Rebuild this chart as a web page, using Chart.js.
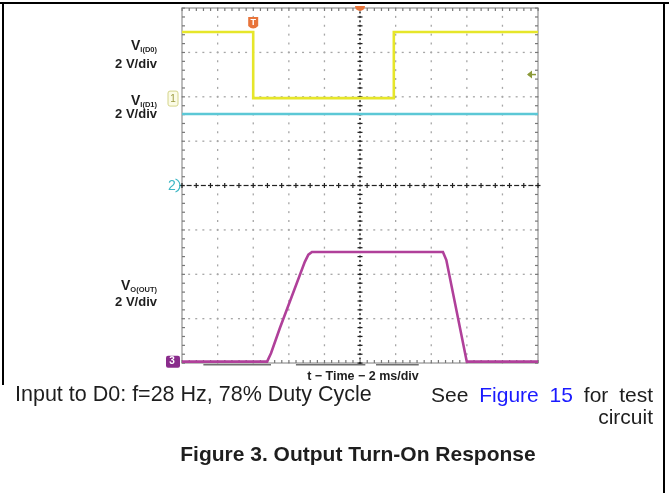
<!DOCTYPE html>
<html><head><meta charset="utf-8">
<script src="https://cdn.jsdelivr.net/npm/chart.js@4/dist/chart.umd.min.js"></script>
<style>
html,body{margin:0;padding:0;background:#fff;}
#wrap{position:relative;width:669px;height:493px;overflow:hidden;font-family:"Liberation Sans",Arial,sans-serif;}
canvas{position:absolute;left:0;top:0;}
.t{position:absolute;white-space:nowrap;color:#1e1e1e;line-height:1;}
.lab{font-weight:bold;text-align:right;right:512px;}
.v{font-size:14px;}
.v sub{font-size:7.5px;vertical-align:baseline;position:relative;top:2px;}
.d{font-size:13px;}
.bline{position:absolute;background:#000;}
</style></head><body>
<div id="wrap">
<canvas id="c" width="669" height="493"></canvas>
<div class="bline" style="left:0;top:2px;width:669px;height:2px"></div>
<div class="bline" style="left:2px;top:2px;width:2px;height:383px"></div>
<div class="bline" style="left:663px;top:2px;width:2px;height:491px"></div>

<div class="t lab v" style="top:38px">V<sub>I(D0)</sub></div>
<div class="t lab d" style="top:57px">2 V/div</div>
<div class="t lab v" style="top:93px">V<sub>I(D1)</sub></div>
<div class="t lab d" style="top:107px">2 V/div</div>
<div class="t lab v" style="top:278px">V<sub>O(OUT)</sub></div>
<div class="t lab d" style="top:295px">2 V/div</div>

<div class="t" style="left:0;width:726px;text-align:center;top:370px;font-size:12.5px;font-weight:bold;">t − Time − 2 ms/div</div>
<div class="t" style="left:15px;top:384px;font-size:21.5px;">Input to D0: f=28 Hz, 78% Duty Cycle</div>
<div class="t" style="right:16px;top:384px;font-size:21px;text-align:right;line-height:22px;"><span style="word-spacing:5px">See <span style="color:#1a1aff">Figure 15</span> for test</span><br>circuit</div>
<div class="t" style="left:0;width:716px;text-align:center;top:443px;font-size:21px;font-weight:bold;">Figure 3. Output Turn-On Response</div>
</div>
<script>
// time in ms (2 ms/div, 0 at screen centre); values in screen divisions (2 V/div)
const timeD0 = [-10, -6.0, -6.0, 1.9, 1.9, 10];
const voltD0 = [3.46, 3.46, 1.97, 1.97, 3.46, 3.46];
const timeD1 = [-10, 10];
const voltD1 = [1.61, 1.61];
const timeOut = [-10, -5.22, -5.0, -4.5, -3.1, -2.9, -2.7, 4.66, 4.85, 6.0, 10];
const voltOut = [-3.97, -3.97, -3.78, -3.21, -1.72, -1.56, -1.5, -1.5, -1.68, -3.97, -3.97];
const triggerTime = -6.0;

const pts = (t, v) => t.map((x, i) => ({x, y: v[i]}));

const scopeGrid = {
  id: 'scopeGrid',
  beforeDatasetsDraw(chart) {
    const {ctx, chartArea: a, scales: {x, y}} = chart;
    ctx.save();
    // frame
    ctx.strokeStyle = '#a8a8a8'; ctx.lineWidth = 1.5;
    ctx.strokeRect(a.left, a.top, a.right - a.left, a.bottom - a.top);
    // grid dots
    ctx.fillStyle = '#a6a6a6';
    for (let t = -8; t <= 8; t += 2) {
      if (t === 0) continue;
      const px = x.getPixelForValue(t);
      for (let v = -4; v <= 4.001; v += 0.2) {
        ctx.fillRect(px - 0.6, y.getPixelForValue(v) - 1, 1.3, 2);
      }
    }
    for (let v = -3; v <= 3; v++) {
      if (v === 0) continue;
      const py = y.getPixelForValue(v);
      for (let t = -10; t <= 10.001; t += 0.4) {
        ctx.fillRect(x.getPixelForValue(t) - 1, py - 0.6, 2, 1.3);
      }
    }
    // edge ticks
    ctx.fillStyle = '#777';
    for (let v = -4; v <= 4.001; v += 0.2) {
      const py = y.getPixelForValue(v);
      ctx.fillRect(a.left, py - 0.5, 3, 1.2);
      ctx.fillRect(a.right - 3, py - 0.5, 3, 1.2);
    }
    for (let t = -10; t <= 10.001; t += 0.4) {
      const px = x.getPixelForValue(t);
      ctx.fillRect(px - 0.5, a.top, 1.2, 3);
      ctx.fillRect(px - 0.5, a.bottom - 3, 1.2, 3);
    }
    // centre vertical axis
    const cx = x.getPixelForValue(0), cy = y.getPixelForValue(0);
    ctx.fillStyle = '#222';
    for (let v = -4; v <= 4.001; v += 0.1) {
      ctx.fillRect(cx - 0.75, y.getPixelForValue(v) - 1, 1.5, 2);
    }
    for (let v = -4; v <= 4.001; v += 0.2) {
      ctx.fillRect(cx - 2.5, y.getPixelForValue(v) - 0.5, 5, 1.2);
    }
    // centre horizontal axis: alternating crosses and dashes
    let k = 0;
    for (let t = -10; t <= 10.001; t += 0.4, k++) {
      const px = x.getPixelForValue(t);
      ctx.fillRect(px - 2.5, cy - 0.6, 5, 1.2);
      if (k % 2 === 0) ctx.fillRect(px - 0.6, cy - 2.5, 1.2, 5);
    }
    // dark bars under the screen
    ctx.fillStyle = '#707070';
    [[-8.8, -5.0], [-3.6, 0.3], [0.9, 3.3]].forEach(([t0, t1]) => {
      ctx.fillRect(x.getPixelForValue(t0), a.bottom + 1, x.getPixelForValue(t1) - x.getPixelForValue(t0), 1.5);
    });
    ctx.restore();
  },
  afterDraw(chart) {
    const {ctx, chartArea: a, scales: {x, y}} = chart;
    ctx.save();
    // trigger position marker (top centre)
    const cx = x.getPixelForValue(0);
    ctx.fillStyle = '#e8743a';
    ctx.beginPath(); ctx.arc(cx, a.top - 2, 5, 0, Math.PI); ctx.fill();
    // T marker
    const tx = x.getPixelForValue(triggerTime);
    ctx.beginPath();
    ctx.moveTo(tx - 5, a.top + 9); ctx.lineTo(tx + 5, a.top + 9);
    ctx.lineTo(tx + 5, a.top + 18); ctx.quadraticCurveTo(tx, a.top + 23, tx - 5, a.top + 18);
    ctx.closePath(); ctx.fill();
    ctx.fillStyle = '#fff'; ctx.font = 'bold 9px "Liberation Sans"'; ctx.textAlign = 'center'; ctx.textBaseline = 'middle';
    ctx.fillText('T', tx, a.top + 15);
    // channel 1 marker
    const y1 = y.getPixelForValue(1.97);
    ctx.fillStyle = '#fbfbe6'; ctx.strokeStyle = '#d4d48a'; ctx.lineWidth = 1;
    ctx.beginPath(); ctx.roundRect(a.left - 14, y1 - 7, 10, 15, 2); ctx.fill(); ctx.stroke();
    ctx.fillStyle = '#9a9a40'; ctx.font = '10px "Liberation Sans"';
    ctx.fillText('1', a.left - 9, y1 + 1);
    // channel 2 marker
    const y2 = y.getPixelForValue(0);
    ctx.fillStyle = '#3cb6c4'; ctx.font = '14px "Liberation Sans"';
    ctx.fillText('2', a.left - 10, y2 + 1);
    ctx.strokeStyle = '#3cb6c4'; ctx.lineWidth = 1.2;
    ctx.beginPath(); ctx.arc(a.left - 9, y2, 7, -Math.PI / 2.6, Math.PI / 2.6); ctx.stroke();
    // channel 3 marker
    const y3 = y.getPixelForValue(-3.97);
    ctx.fillStyle = '#8a2c8c';
    ctx.beginPath(); ctx.roundRect(a.left - 16, y3 - 6, 14, 12, 2); ctx.fill();
    ctx.fillStyle = '#fff'; ctx.font = 'bold 10px "Liberation Sans"';
    ctx.fillText('3', a.left - 10, y3);
    // green arrow on right
    const ya = y.getPixelForValue(2.5);
    ctx.strokeStyle = '#8c9a3a'; ctx.fillStyle = '#8c9a3a'; ctx.lineWidth = 1.5;
    ctx.beginPath(); ctx.moveTo(a.right - 10, ya); ctx.lineTo(a.right - 2, ya); ctx.stroke();
    ctx.beginPath(); ctx.moveTo(a.right - 11, ya); ctx.lineTo(a.right - 6, ya - 4); ctx.lineTo(a.right - 6, ya + 4); ctx.closePath(); ctx.fill();
    ctx.restore();
  }
};

new Chart(document.getElementById('c'), {
  type: 'line',
  data: {
    datasets: [
      {label: 'VI(D0)', data: pts(timeD0, voltD0), borderColor: '#e6e62a', borderWidth: 2.6},
      {label: 'VI(D1)', data: pts(timeD1, voltD1), borderColor: '#5cc8d6', borderWidth: 2.6},
      {label: 'VO(OUT)', data: pts(timeOut, voltOut), borderColor: '#b0409a', borderWidth: 2.6}
    ]
  },
  options: {
    responsive: false, animation: false, devicePixelRatio: 1,
    layout: {padding: {left: 182, right: 131, top: 8, bottom: 130}},
    elements: {point: {radius: 0}, line: {tension: 0}},
    plugins: {legend: {display: false}, tooltip: {enabled: false}},
    scales: {
      x: {type: 'linear', min: -10, max: 10, display: false},
      y: {type: 'linear', min: -4, max: 4, display: false}
    }
  },
  plugins: [scopeGrid]
});
</script>
</body></html>
